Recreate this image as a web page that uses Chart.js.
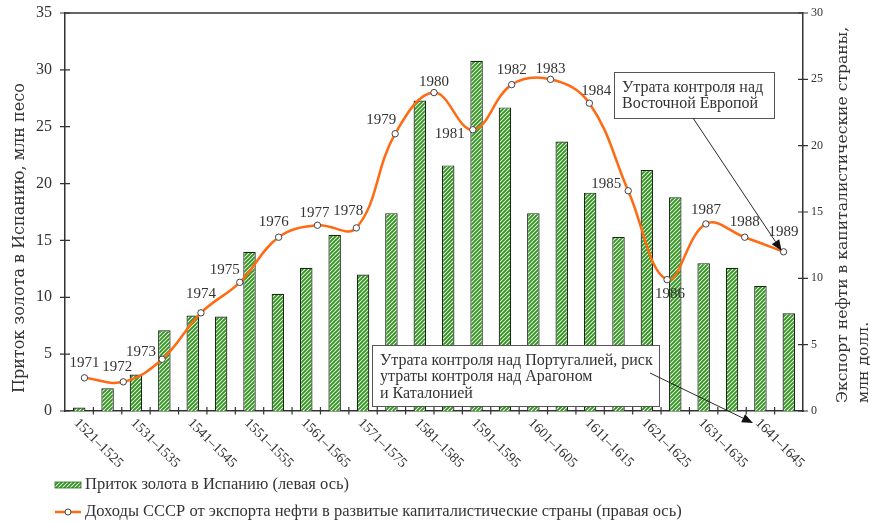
<!DOCTYPE html>
<html>
<head>
<meta charset="utf-8">
<script src="https://cdn.jsdelivr.net/npm/chart.js@4"></script>
<style>
  body { margin: 0; background: #fff; }
  canvas { display: block; }
</style>
</head>
<body>
<canvas id="myChart" width="870" height="523"></canvas>
<script>
// gold inflow to Spain, million pesos (left axis)
const periods = [
    '1521–1525', '1526–1530', '1531–1535', '1536–1540', '1541–1545', '1546–1550',
    '1551–1555', '1556–1560', '1561–1565', '1566–1570', '1571–1575', '1576–1580',
    '1581–1585', '1586–1590', '1591–1595', '1596–1600', '1601–1605', '1606–1610',
    '1611–1615', '1616–1620', '1621–1625', '1626–1630', '1631–1635', '1636–1640',
    '1641–1645', '1646–1650'
];
const goldInflow = [0.3, 2.0, 3.2, 7.1, 8.4, 8.3, 14.0, 10.3, 12.6, 15.5, 12.0, 17.4, 27.3,
    21.6, 30.8, 26.7, 17.4, 23.7, 19.2, 15.3, 21.2, 18.8, 13.0, 12.6, 11.0, 8.6];

// USSR oil export income, billion dollars (right axis)
const years = ['1971', '1972', '1973', '1974', '1975', '1976', '1977', '1978', '1979', '1980',
    '1981', '1982', '1983', '1984', '1985', '1986', '1987', '1988', '1989'];
const oilIncome = [2.5, 2.2, 3.9, 7.4, 9.7, 13.1, 14.0, 13.8, 20.9, 24.0, 21.2, 24.6, 25.0,
    23.2, 16.6, 9.9, 14.1, 13.1, 12.0];

const leftMax = 35, rightMax = 30, tickStep = 5;

const legendLabels = [
    'Приток золота в Испанию (левая ось)',
    'Доходы СССР от экспорта нефти в развитые капиталистические страны (правая ось)'
];
const leftTitle = 'Приток золота в Испанию, млн песо';
const rightTitle = ['Экспорт нефти в капиталистические страны,', 'млн долл.'];

// where each year label sits relative to its point
const yearLabelOffsets = [[0, -15], [-6, -15], [-21, -7], [0, -19], [-15, -12], [-5, -15],
    [-3, -12], [-8, -17], [-14, -14], [0, -11], [-23, 4], [0, -15], [0, -10], [7, -12],
    [-22, -7], [3, 14], [0, -14], [0, -15], [0, -20]];

const SERIF = '"Liberation Serif", serif';
const TITLE = '"DejaVu Serif", serif';
const ink = '#333';
const orange = '#ff6a13';

// green diagonal hatch for the bars
function hatch() {
    const pc = document.createElement('canvas');
    pc.width = 4; pc.height = 4;
    const p = pc.getContext('2d');
    p.fillStyle = '#eef9e6';
    p.fillRect(0, 0, 4, 4);
    p.strokeStyle = '#2f9420';
    p.lineWidth = 1.9;
    p.beginPath();
    p.moveTo(-1, 5); p.lineTo(5, -1);
    p.moveTo(-1, 1); p.lineTo(1, -1);
    p.moveTo(3, 5); p.lineTo(5, 3);
    p.stroke();
    return p.createPattern(pc, 'repeat');
}
const ctx = document.getElementById('myChart').getContext('2d');
const barFill = hatch();

function arrow(c, x1, y1, x2, y2) {
    const a = Math.atan2(y2 - y1, x2 - x1);
    const len = 11, w = 4.5;
    const bx = x2 - len * Math.cos(a), by = y2 - len * Math.sin(a);
    c.beginPath();
    c.moveTo(x1, y1); c.lineTo(bx, by);
    c.stroke();
    c.beginPath();
    c.moveTo(x2, y2);
    c.lineTo(bx + w * Math.sin(a), by - w * Math.cos(a));
    c.lineTo(bx - w * Math.sin(a), by + w * Math.cos(a));
    c.closePath();
    c.fill();
}

// keep the plot area exactly where the frame is
function noPad(s) {
    s.paddingTop = 0;
    s.paddingBottom = 0;
}

const extras = {
    id: 'extras',
    beforeDraw(chart) {
        const c = chart.ctx;
        c.save();
        c.fillStyle = '#fff';
        c.fillRect(0, 0, chart.width, chart.height);
        c.restore();
    },
    afterDraw(chart) {
        const c = chart.ctx;
        const {left, right, top, bottom} = chart.chartArea;
        const x = chart.scales.x, y = chart.scales.y, y2 = chart.scales.y2;
        c.save();

        // frame top and crossing tick marks
        c.strokeStyle = ink;
        c.lineWidth = 1.5;
        c.beginPath();
        c.moveTo(left, top); c.lineTo(right, top);
        c.stroke();
        c.lineWidth = 1.2;
        c.beginPath();
        y.ticks.forEach(t => {
            const py = y.getPixelForValue(t.value);
            c.moveTo(left - 5, py); c.lineTo(left + 5, py);
        });
        y2.ticks.forEach(t => {
            const py = y2.getPixelForValue(t.value);
            c.moveTo(right - 5, py); c.lineTo(right + 5, py);
        });
        for (let i = 1; i < periods.length; i++) {
            const px = (x.getPixelForValue(i - 1) + x.getPixelForValue(i)) / 2;
            c.moveTo(px, bottom - 4); c.lineTo(px, bottom + 3.5);
        }
        c.stroke();

        // rotated period labels, every other one
        c.fillStyle = ink;
        c.font = '14px ' + SERIF;
        c.textAlign = 'left';
        c.textBaseline = 'middle';
        periods.forEach((p, i) => {
            if (i % 2) return;
            c.save();
            c.translate(x.getPixelForValue(i) - 3, bottom + 10);
            c.rotate(Math.PI / 4);
            c.fillText(p, 0, 0);
            c.restore();
        });

        // year labels next to the line points
        const pts = chart.getDatasetMeta(0).data;
        c.font = '15px ' + SERIF;
        c.textAlign = 'center';
        pts.forEach((pt, i) => {
            const [dx, dy] = yearLabelOffsets[i];
            c.fillText(years[i], pt.x + dx, pt.y + dy);
        });

        // annotations
        const last = pts[pts.length - 1];
        const notes = [
            {box: [614, 72, 160, 46], lines: ['Утрата контроля над', 'Восточной Европой'],
                from: [693, 118], to: [last.x - 2, last.y - 1]},
            {box: [372, 345, 287, 61], lines: ['Утрата контроля над Португалией, риск',
                'утраты контроля над Арагоном', 'и Каталонией'],
                from: [650, 373], to: [753, 423]}
        ];
        notes.forEach(n => {
            const [bx, by, bw, bh] = n.box;
            c.fillStyle = '#fff';
            c.fillRect(bx, by, bw, bh);
            c.strokeStyle = '#555';
            c.lineWidth = 1;
            c.strokeRect(bx + 0.5, by + 0.5, bw, bh);
            c.fillStyle = ink;
            c.font = '16px ' + SERIF;
            c.textAlign = 'left';
            n.lines.forEach((l, k) => c.fillText(l, bx + 8, by + 15.5 + k * 16.5));
        });
        c.strokeStyle = '#111';
        c.fillStyle = '#111';
        c.lineWidth = 0.9;
        notes.forEach(n => arrow(c, n.from[0], n.from[1], n.to[0], n.to[1]));

        // axis titles
        c.fillStyle = ink;
        c.font = '16px ' + TITLE;
        c.textAlign = 'left';
        c.textBaseline = 'alphabetic';
        c.save();
        c.translate(24, 393);
        c.rotate(-Math.PI / 2);
        c.fillText(leftTitle, 0, 0);
        c.restore();
        c.font = '15.6px ' + TITLE;
        rightTitle.forEach((t, k) => {
            c.save();
            c.translate(847 + k * 21, 403);
            c.rotate(-Math.PI / 2);
            c.fillText(t, 0, 0);
            c.restore();
        });

        // legend
        c.fillStyle = barFill;
        c.fillRect(55, 482, 26, 6);
        c.strokeStyle = '#2d6b22';
        c.lineWidth = 0.8;
        c.strokeRect(55, 482, 26, 6);
        c.strokeStyle = orange;
        c.lineWidth = 2.5;
        c.beginPath();
        c.moveTo(55, 512); c.lineTo(81, 512);
        c.stroke();
        c.beginPath();
        c.arc(68, 512, 3, 0, Math.PI * 2);
        c.fillStyle = '#fff';
        c.fill();
        c.strokeStyle = '#444';
        c.lineWidth = 1;
        c.stroke();
        c.fillStyle = ink;
        c.font = '16.5px ' + SERIF;
        c.textBaseline = 'middle';
        c.fillText(legendLabels[0], 85, 485);
        c.fillText(legendLabels[1], 85, 512);

        c.restore();
    }
};

const myChart = new Chart(ctx, {
    type: 'bar',
    data: {
        labels: periods,
        datasets: [{
            type: 'line',
            label: legendLabels[1],
            data: oilIncome,
            xAxisID: 'x2',
            yAxisID: 'y2',
            borderColor: orange,
            borderWidth: 2.5,
            tension: 0.4,
            pointRadius: 3.2,
            pointBackgroundColor: '#fff',
            pointBorderColor: '#444',
            pointBorderWidth: 1,
            order: 0
        }, {
            type: 'bar',
            label: legendLabels[0],
            data: goldInflow,
            xAxisID: 'x',
            yAxisID: 'y',
            backgroundColor: barFill,
            borderColor: '#1b2618',
            borderWidth: 1.2,
            grouped: false,
            categoryPercentage: 1,
            barPercentage: 0.44,
            order: 1
        }]
    },
    options: {
        responsive: false,
        animation: false,
        devicePixelRatio: 1,
        layout: { padding: { top: 13 } },
        plugins: {
            legend: { display: false },
            tooltip: { enabled: false }
        },
        scales: {
            x: {
                type: 'category',
                position: 'bottom',
                offset: true,
                grid: { display: false, drawTicks: false },
                border: { display: true, color: ink, width: 1.5 },
                ticks: { display: false },
                afterFit: s => { s.height = 112; }
            },
            x2: {
                type: 'category',
                labels: years,
                offset: true,
                display: false
            },
            y: {
                position: 'left',
                min: 0,
                max: leftMax,
                grid: { display: false, drawTicks: false },
                border: { display: true, color: ink, width: 1.5 },
                ticks: { stepSize: tickStep, padding: 13, color: ink, font: { family: SERIF, size: 16 } },
                afterFit: s => { s.width = 65; noPad(s); }
            },
            y2: {
                position: 'right',
                min: 0,
                max: rightMax,
                grid: { display: false, drawTicks: false },
                border: { display: true, color: ink, width: 1.5 },
                ticks: { stepSize: tickStep, padding: 8, color: ink, font: { family: SERIF, size: 12 } },
                afterFit: s => { s.width = 67; noPad(s); }
            }
        }
    },
    plugins: [extras]
});
</script>
</body>
</html>
